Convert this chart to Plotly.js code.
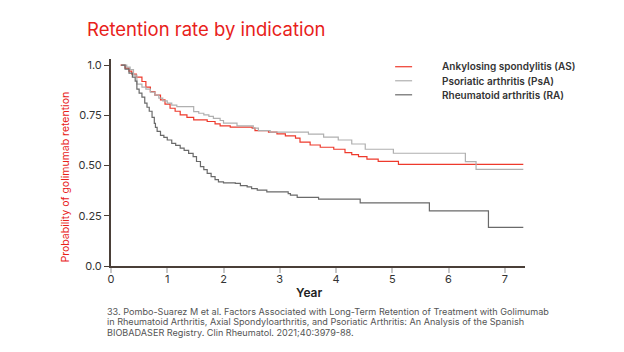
<!DOCTYPE html>
<html><head><meta charset="utf-8">
<script src="https://cdn.plot.ly/plotly-3.0.1.min.js"></script>
<style>html,body{margin:0;padding:0;background:#fff;}#chart{width:624px;height:352px;}</style>
</head><body><div id="chart"></div>
<script>
const seriesNames = ["Ankylosing spondylitis (AS)", "Psoriatic arthritis (PsA)", "Rheumatoid arthritis (RA)"];

const asYears = [0.17,0.25,0.32,0.37,0.45,0.55,0.62,0.70,0.78,0.88,0.96,1.05,1.14,1.23,1.35,1.47,1.71,1.85,1.94,2.12,2.51,2.56,2.80,2.95,3.10,3.28,3.36,3.54,3.72,3.96,4.16,4.28,4.40,4.55,4.75,5.11,7.33];
const asRetention = [1.0,0.985,0.97,0.955,0.94,0.918,0.89,0.868,0.85,0.827,0.805,0.785,0.77,0.752,0.74,0.727,0.719,0.707,0.697,0.691,0.686,0.674,0.666,0.657,0.647,0.636,0.616,0.602,0.591,0.581,0.564,0.554,0.544,0.532,0.521,0.506,0.506];

const psaYears = [0.20,0.28,0.34,0.40,0.46,0.55,0.62,0.70,0.78,0.85,0.92,1.0,1.08,1.17,1.47,1.56,1.65,1.74,1.82,1.94,2.0,2.24,2.53,2.62,2.83,3.51,3.78,4.04,4.28,4.52,5.02,6.30,6.49,7.33];
const psaRetention = [1.0,0.99,0.977,0.95,0.905,0.89,0.88,0.865,0.85,0.835,0.822,0.810,0.80,0.793,0.768,0.76,0.752,0.745,0.735,0.724,0.711,0.697,0.686,0.674,0.666,0.656,0.641,0.627,0.607,0.581,0.561,0.519,0.481,0.481];

const raYears = [0.18,0.25,0.32,0.38,0.43,0.46,0.50,0.55,0.60,0.64,0.68,0.73,0.77,0.79,0.82,0.88,0.94,1.0,1.08,1.15,1.23,1.30,1.38,1.46,1.52,1.59,1.65,1.71,1.78,1.85,1.91,2.0,2.21,2.30,2.42,2.50,2.60,2.77,3.10,3.15,3.19,3.31,3.69,4.43,5.66,6.71,7.33];
const raRetention = [1.0,0.98,0.96,0.94,0.92,0.88,0.86,0.84,0.81,0.79,0.77,0.74,0.71,0.69,0.67,0.65,0.64,0.627,0.61,0.60,0.587,0.575,0.56,0.544,0.52,0.494,0.48,0.461,0.445,0.43,0.419,0.414,0.411,0.40,0.394,0.385,0.378,0.369,0.369,0.36,0.353,0.341,0.333,0.314,0.274,0.192,0.192];

const xTicks = [0,1,2,3,4,5,6,7];
const yTicks = [0,0.25,0.5,0.75,1.0];
const yTickText = ["0.0","0.25","0.50","0.75","1.0"];

const footnoteLines = [
  "33. Pombo-Suarez M et al. Factors Associated with Long-Term Retention of Treatment with Golimumab",
  "in Rheumatoid Arthritis, Axial Spondyloarthritis, and Psoriatic Arthritis: An Analysis of the Spanish",
  "BIOBADASER Registry. Clin Rheumatol. 2021;40:3979-88."
];

const colors = ["#ee3a2c", "#b0b0b0", "#6a6a6a"];
const xs = [asYears, psaYears, raYears];
const ys = [asRetention, psaRetention, raRetention];
const FONT = "Inter, Roboto, sans-serif";

const traces = seriesNames.map((n, i) => ({
  x: xs[i], y: ys[i], name: n, type: "scatter", mode: "lines", showlegend: false,
  line: {shape: "hv", color: colors[i], width: 1.2}
}));

// geometry helpers (plot area in pixels)
const L = 110.6, R = 525, T = 59.3, B = 265.7;
const px2x = p => (p - L) / (R - L);
const py2y = p => (B - p) / (B - T);

const shapes = [];
const annotations = [];
// custom legend
const legendRows = [67, 81, 95];
seriesNames.forEach((n, i) => {
  shapes.push({type: "line", xref: "paper", yref: "paper",
    x0: px2x(395), x1: px2x(412), y0: py2y(legendRows[i]), y1: py2y(legendRows[i]),
    line: {color: colors[i], width: 1.2}});
  annotations.push({text: n, xref: "paper", yref: "paper", x: px2x(440), y: py2y(legendRows[i]),
    xanchor: "left", yanchor: "middle", showarrow: false,
    font: {size: 10, color: "#333", family: FONT, weight: 600}});
});
// footnote
const footRows = [311, 321.5, 332];
footnoteLines.forEach((t, i) => {
  annotations.push({text: t, xref: "paper", yref: "paper", x: px2x(104.5), y: py2y(footRows[i]),
    xanchor: "left", yanchor: "middle", showarrow: false,
    font: {size: 9.1, color: "#555", family: FONT}});
});
// y axis title
annotations.push({text: "Probability of golimumab retention", xref: "paper", yref: "paper",
  x: px2x(65), y: py2y(177), xanchor: "center", yanchor: "middle", textangle: -90, showarrow: false,
  font: {size: 10.5, color: "#e8211a", family: FONT}});
// x axis title
annotations.push({text: "Year", xref: "paper", yref: "paper",
  x: px2x(309), y: py2y(292), xanchor: "center", yanchor: "middle", showarrow: false,
  font: {size: 12, color: "#222", family: FONT, weight: 600}});

const axisColor = "#4a3f38";
const layout = {
  width: 624, height: 352,
  paper_bgcolor: "#fff", plot_bgcolor: "#fff",
  margin: {l: L, r: 624 - R, t: T, b: 352 - B},
  font: {family: FONT, color: "#333"},
  title: {text: "Retention rate by indication", xref: "container", x: 87 / 624, xanchor: "left",
          yref: "container", y: 1 - 30 / 352, yanchor: "middle", pad: {t: 0, l: 0, r: 0, b: 0},
          font: {family: FONT, size: 18.5, color: "#e8211a"}},
  showlegend: false,
  xaxis: {range: [0, 7.36], tickvals: xTicks, ticks: "outside", ticklen: 5, tickwidth: 2,
          tickcolor: "#c8c8c8", showline: true, linecolor: axisColor, linewidth: 2,
          showgrid: false, zeroline: false, ticklabelstandoff: -3, tickfont: {size: 11, color: "#333"}},
  yaxis: {range: [0, 1.03], tickvals: yTicks, ticktext: yTickText, ticks: "outside", ticklen: 5,
          tickwidth: 1, tickcolor: axisColor, showline: true, linecolor: axisColor, linewidth: 2,
          showgrid: false, zeroline: false, tickfont: {size: 11, color: "#333"}},
  shapes: shapes,
  annotations: annotations
};
Plotly.newPlot("chart", traces, layout, {displayModeBar: false, staticPlot: true});
</script></body></html>
